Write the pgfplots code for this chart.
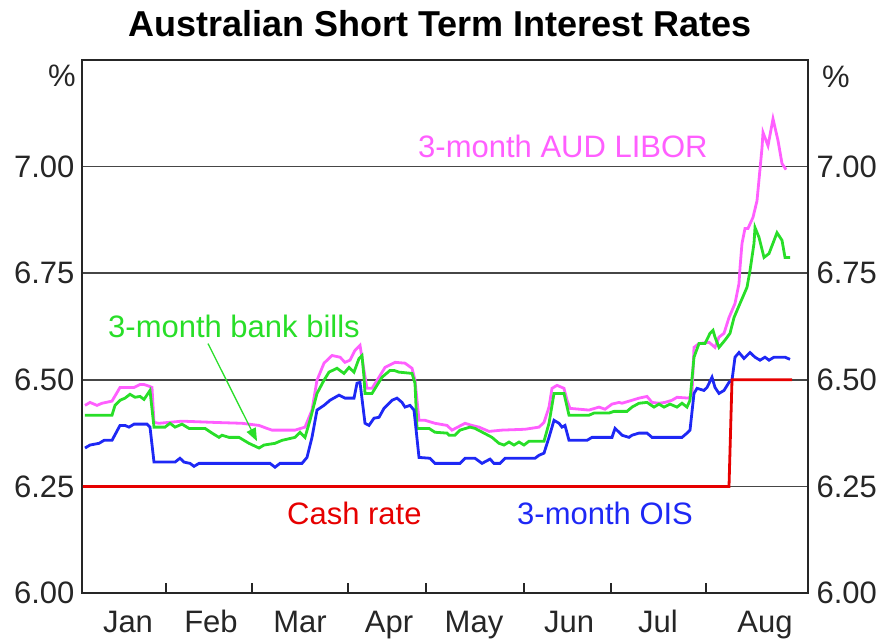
\documentclass[border=0pt]{standalone}
\usepackage{fontspec}
\setmainfont{Liberation Sans}
\usepackage{pgfplots}
\pgfplotsset{compat=1.18}
\usetikzlibrary{arrows.meta}
\definecolor{cpink}{RGB}{255,95,255}
\definecolor{cgreen}{RGB}{40,222,40}
\definecolor{cblue}{RGB}{30,40,245}
\definecolor{cred}{RGB}{230,0,0}
\definecolor{cgrid}{RGB}{70,70,70}

\pgfplotstableread{
x y
85 6.440
90 6.447
97 6.440
102 6.445
112 6.450
119 6.478
120 6.482
134 6.482
140 6.489
144 6.489
149 6.485
152 6.482
154 6.400
159 6.398
182 6.403
215 6.400
242 6.398
259 6.393
267 6.386
272 6.382
295 6.382
305 6.389
312 6.429
317 6.499
324 6.539
332 6.557
340 6.553
345 6.541
350 6.546
355 6.569
360 6.581
364 6.522
367 6.480
372 6.480
379 6.506
385 6.529
395 6.541
405 6.539
412 6.527
415 6.499
419 6.405
425 6.405
435 6.398
447 6.393
452 6.382
465 6.398
472 6.393
479 6.389
489 6.379
502 6.382
525 6.384
539 6.389
544 6.400
549 6.436
552 6.480
557 6.487
564 6.480
567 6.452
570 6.433
589 6.429
599 6.436
605 6.431
612 6.443
619 6.447
622 6.445
632 6.452
639 6.457
647 6.461
652 6.447
659 6.445
665 6.447
672 6.452
677 6.459
689 6.457
692 6.468
694 6.576
699 6.585
709 6.588
715 6.576
719 6.600
724 6.609
729 6.646
735 6.679
739 6.726
740 6.763
742 6.820
745 6.855
748 6.855
753 6.881
757 6.920
762 7.044
763 7.080
768 7.049
773 7.112
778 7.061
782 7.007
786 6.993
}\libor

\pgfplotstableread{
x y
85 6.417
112 6.417
115 6.440
120 6.452
125 6.457
130 6.466
135 6.459
140 6.461
144 6.454
150 6.475
154 6.389
165 6.389
170 6.398
175 6.389
182 6.396
189 6.386
205 6.386
212 6.375
219 6.365
222 6.370
229 6.365
239 6.365
249 6.351
259 6.340
264 6.347
275 6.351
282 6.358
295 6.365
300 6.377
305 6.365
310 6.405
317 6.468
324 6.499
329 6.518
337 6.527
344 6.515
349 6.529
354 6.518
359 6.550
362 6.557
364 6.506
365 6.468
372 6.468
377 6.487
382 6.506
390 6.522
394 6.522
399 6.518
412 6.515
415 6.492
417 6.386
429 6.386
435 6.377
447 6.375
449 6.370
455 6.370
460 6.382
470 6.389
475 6.386
484 6.375
492 6.365
499 6.351
504 6.347
509 6.354
514 6.347
519 6.354
524 6.347
529 6.356
544 6.356
549 6.398
554 6.468
564 6.468
569 6.417
589 6.417
594 6.422
609 6.422
614 6.426
627 6.426
632 6.436
639 6.445
647 6.447
654 6.436
659 6.443
664 6.436
670 6.443
677 6.436
682 6.445
687 6.436
690 6.452
694 6.553
699 6.585
705 6.585
710 6.609
713 6.616
715 6.600
719 6.576
725 6.593
730 6.609
734 6.646
740 6.679
747 6.717
750 6.756
754 6.820
755 6.857
759 6.834
764 6.787
769 6.796
777 6.845
782 6.827
785 6.787
790 6.787
}\bills

\pgfplotstableread{
x y
85 6.340
90 6.347
99 6.351
104 6.358
112 6.358
120 6.393
125 6.393
129 6.389
134 6.396
147 6.396
150 6.389
154 6.307
175 6.307
180 6.316
184 6.307
190 6.304
194 6.297
199 6.304
270 6.304
275 6.295
280 6.304
302 6.304
307 6.318
312 6.365
317 6.429
324 6.440
330 6.452
339 6.464
345 6.457
354 6.457
357 6.492
360 6.494
365 6.398
369 6.393
374 6.410
379 6.412
384 6.433
392 6.452
397 6.457
402 6.447
405 6.436
410 6.440
414 6.429
419 6.318
430 6.316
435 6.304
460 6.304
465 6.316
475 6.316
482 6.304
490 6.314
494 6.304
500 6.304
505 6.316
535 6.316
539 6.323
544 6.328
549 6.365
554 6.405
559 6.398
562 6.389
565 6.393
569 6.358
587 6.358
592 6.365
612 6.365
615 6.386
620 6.375
622 6.370
629 6.365
632 6.370
639 6.375
647 6.375
652 6.365
682 6.365
687 6.375
690 6.382
694 6.468
697 6.480
704 6.475
707 6.482
712 6.506
715 6.482
719 6.468
724 6.475
729 6.494
732 6.499
735 6.553
739 6.564
744 6.550
750 6.564
755 6.553
760 6.546
765 6.553
769 6.546
774 6.553
779 6.553
785 6.553
790 6.548
}\ois

\pgfplotstableread{
x y
83 6.25
729 6.25
732 6.50
792 6.50
}\cash

\begin{document}
\begin{tikzpicture}[x=1pt,y=1pt]
\useasboundingbox (-82,-47) rectangle (803,593);
\pgfplotsset{
  common/.style={
    scale only axis, width=726pt, height=533pt,
    xmin=82, xmax=808, ymin=6, ymax=7.25,
    ytick={6,6.25,6.5,6.75,7},
    ytick style={draw=none},
    yticklabel style={/pgf/number format/fixed, /pgf/number format/fixed zerofill, /pgf/number format/precision=2, /pgf/number format/assume math mode=true},
    tick label style={font=\fontsize{31}{37}\selectfont, text=black!85},
  }
}
\begin{axis}[common,
    axis line style={line width=2pt, black!85},
    ymajorgrids, grid style={line width=1.8pt, cgrid},
    xtick={128,211,300,389,474,569,658,765},
    xticklabels={Jan,Feb,Mar,Apr,May,Jun,Jul,Aug},
    xtick style={draw=none},
    extra x ticks={166,252,348,426,524,611,706},
    extra x tick labels={},
    extra x tick style={xtick style={draw=black!85, line width=1.6pt}, major tick length=10pt, tick align=inside, xtick pos=left},
    xticklabel style={anchor=base, yshift=-39pt},
    yticklabel style={xshift=-4pt},
  ]
  \addplot[cpink, line width=2.8pt] table[x=x,y=y]{\libor};
  \addplot[cgreen, line width=2.8pt] table[x=x,y=y]{\bills};
  \addplot[cblue, line width=2.8pt] table[x=x,y=y]{\ois};
  \addplot[cred, line width=2.8pt] table[x=x,y=y]{\cash};
  \node[anchor=west, inner sep=0, text=cpink, font=\fontsize{31}{37}\selectfont] at (axis cs:418,7.047) {3-month AUD LIBOR};
  \node[anchor=west, inner sep=0, text=cgreen, font=\fontsize{31}{37}\selectfont] at (axis cs:108,6.625) {3-month bank bills};
  \node[anchor=west, inner sep=0, text=cred, font=\fontsize{31}{37}\selectfont] at (axis cs:287,6.187) {Cash rate};
  \node[anchor=west, inner sep=0, text=cblue, font=\fontsize{31}{37}\selectfont] at (axis cs:517,6.187) {3-month OIS};
  \draw[cgreen, line width=1.3pt, -{Triangle[length=13pt,width=10pt]}] (axis cs:208,6.585) -- (axis cs:257,6.356);
\end{axis}
\begin{axis}[common,
    axis line style={draw=none},
    xtick=\empty,
    yticklabel pos=right,
    yticklabel style={xshift=5pt},
  ]
\end{axis}
\node[anchor=east, inner sep=0, font=\fontsize{31}{37}\selectfont, text=black!85] at (-6,517) {\%};
\node[anchor=west, inner sep=0, font=\fontsize{31}{37}\selectfont, text=black!85] at (740,516) {\%};
\node[font=\bfseries\fontsize{36}{43}\selectfont] at (358,569) {Australian Short Term Interest Rates};
\end{tikzpicture}
\end{document}
